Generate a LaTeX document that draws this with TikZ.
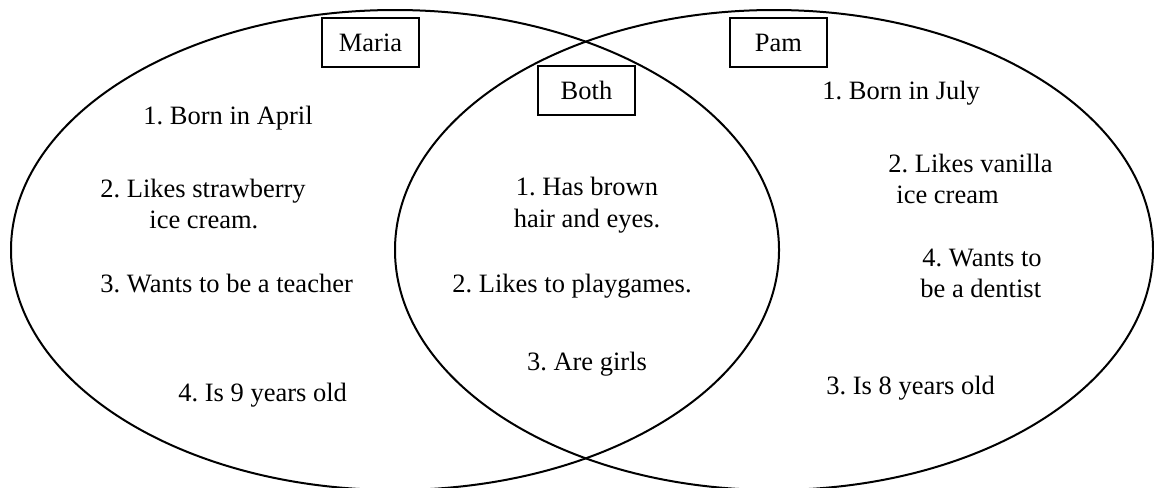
\documentclass[tikz,border=0pt]{standalone}
\usepackage{fontspec}
\setmainfont{Liberation Serif}
\begin{document}
\frenchspacing
\begin{tikzpicture}[x=0.5pt,y=-0.5pt,
  ring/.style={line width=1pt},
  label/.style={draw,line width=1pt,minimum width=48.5pt,minimum height=24.5pt,inner sep=0pt,font=\fontsize{13.25}{16}\selectfont},
  txt/.style={inner sep=0pt,anchor=base west,font=\fontsize{13.25}{16}\selectfont},
  ctxt/.style={inner sep=0pt,anchor=base,font=\fontsize{13.25}{16}\selectfont}]
\useasboundingbox (0,0) rectangle (1154,487);
\begin{scope}
\clip (0,0) rectangle (1154,487);
\draw[ring] (395,250) ellipse [x radius=192pt, y radius=120pt];
\draw[ring] (774,250) ellipse [x radius=189.5pt, y radius=120pt];
\end{scope}
\node[label] (maria) at (370.5,42.5) {Maria};
\node[label] (both) at (586.5,90) {Both};
\node[label] (pam) at (778.5,42.5) {Pam};
% Maria
\node[txt] (m1) at (143,124) {1. Born in April};
\node[txt] (m2a) at (100,197) {2. Likes strawberry};
\node[txt] (m2b) at (149,228) {ice cream.};
\node[txt] (m3) at (100,292) {3. Wants to be a teacher};
\node[txt] (m4) at (178,401) {4. Is 9 years old};
% Both
\node[ctxt] (b1a) at (587,195) {1. Has brown};
\node[ctxt] (b1b) at (587,227) {hair and eyes.};
\node[ctxt] (b2) at (572,292) {2. Likes to playgames.};
\node[ctxt] (b3) at (587,370) {3. Are girls};
% Pam
\node[txt] (p1) at (822,99) {1. Born in July};
\node[txt] (p2a) at (888,172) {2. Likes vanilla};
\node[txt] (p2b) at (896,203) {ice cream};
\node[txt] (p4a) at (922,266) {4. Wants to};
\node[txt] (p4b) at (920,297) {be a dentist};
\node[txt] (p3) at (826,394) {3. Is 8 years old};
\end{tikzpicture}
\end{document}
